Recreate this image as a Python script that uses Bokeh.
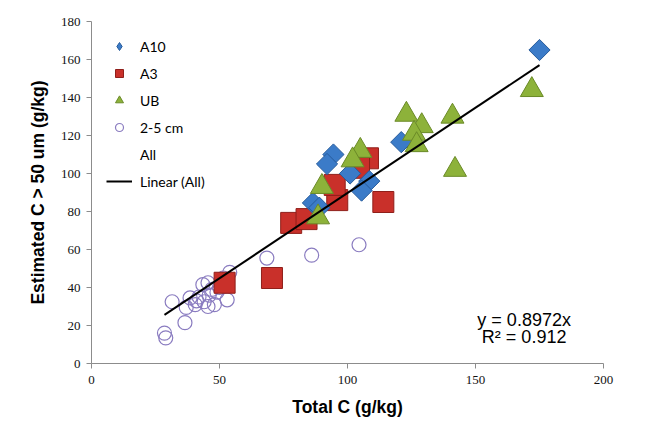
import math
from bokeh.plotting import figure
from bokeh.models import Legend, LegendItem, Label, FixedTicker
from bokeh.embed import file_html
from bokeh.resources import INLINE

# ---- data ----
a10_x = [175, 94.5, 92, 121, 101, 108.5, 105.5, 86.5, 89]
a10_y = [165, 110, 105, 116.5, 100, 96, 91, 84.5, 82]

a3_x = [52, 70.5, 78, 84, 96, 95, 108, 104.5, 114]
a3_y = [42.5, 45, 74, 76, 86, 94, 108, 103, 85]

ub_x = [172, 123, 141, 129, 126, 127, 142, 105, 102, 90, 88.5]
ub_y = [144, 131, 130, 125, 121, 115, 102, 112, 107, 93, 77]

c25_x = [28.5, 29, 36.5, 31.5, 37, 38.5, 42, 44, 45.5, 48, 43.5, 45.5,
         47, 49, 53, 54, 50, 41, 46, 68.5, 86, 104.5, 40.5, 51.5]
c25_y = [16, 13.5, 21.5, 32.5, 29.5, 34.5, 35, 32.5, 30, 31, 41.5, 42.5,
         39, 37.5, 33.5, 48, 40, 33, 36, 55.5, 57, 62.5, 31, 45]

slope = 0.8972
r2 = 0.912

x_ticks = [0, 50, 100, 150, 200]
y_ticks = [0, 20, 40, 60, 80, 100, 120, 140, 160, 180]

all_x = a10_x + a3_x + ub_x + c25_x
line_x = [min(all_x), max(all_x)]
line_y = [slope * v for v in line_x]

p = figure(width=636, height=430, output_backend="svg", toolbar_location=None,
           x_range=(0, 200), y_range=(0, 180),
           min_border_left=91, min_border_right=33, min_border_top=21, min_border_bottom=67,
           background_fill_color="white", border_fill_color="white")
p.outline_line_color = None
p.xgrid.visible = False
p.ygrid.visible = False

# points
r_c25 = p.scatter(c25_x, c25_y, marker="circle", size=14, fill_alpha=0,
                  line_color="#8a7cc0", line_width=1.2)
r_a3 = p.scatter(a3_x, a3_y, marker="square", size=21, fill_color="#c9302a",
                 line_color="#8f1f1a", line_width=1)
r_a10 = p.scatter(a10_x, a10_y, marker="square", angle=math.pi / 4, size=15,
                  fill_color="#3b7bc8", line_color="#275c9c", line_width=1)
r_ub = p.scatter(ub_x, ub_y, marker="triangle", size=23, fill_color="#8db23a",
                 line_color="#6a8a27", line_width=1)
# legend-only swatch (hidden in the plot) for the diamond marker
r_a10_key = p.scatter(a10_x, a10_y, marker="diamond", size=15, visible=False,
                      fill_color="#3b7bc8", line_color="#275c9c", line_width=1)
r_all = p.scatter([], [], marker="circle", size=1, fill_alpha=0, line_alpha=0)
r_line = p.line(line_x, line_y, line_color="black", line_width=2)

# axes
for ax in (p.xaxis[0], p.yaxis[0]):
    ax.axis_line_color = "#8c8c8c"
    ax.major_tick_line_color = "#8c8c8c"
    ax.minor_tick_line_color = None
    ax.major_tick_in = 0
    ax.major_tick_out = 5
    ax.major_label_text_font = "Liberation Serif"
    ax.major_label_text_font_size = "13px"
    ax.major_label_text_color = "#111111"
    ax.axis_label_text_font = "Liberation Sans"
    ax.axis_label_text_font_style = "bold"
    ax.axis_label_text_font_size = "17.5px"
    ax.axis_label_text_color = "black"

p.xaxis.ticker = FixedTicker(ticks=x_ticks)
p.yaxis.ticker = FixedTicker(ticks=y_ticks)
p.xaxis.axis_label = "Total C (g/kg)"
p.yaxis.axis_label = "Estimated C > 50 um (g/kg)"
p.xaxis.major_label_standoff = 7
p.yaxis.major_label_standoff = 6
p.xaxis.axis_label_standoff = 10
p.yaxis.axis_label_standoff = 10

legend = Legend(items=[
    LegendItem(label="A10", renderers=[r_a10_key]),
    LegendItem(label="A3", renderers=[r_a3]),
    LegendItem(label="UB", renderers=[r_ub]),
    LegendItem(label="2-5 cm", renderers=[r_c25]),
    LegendItem(label="All", renderers=[r_all]),
    LegendItem(label="Linear (All)", renderers=[r_line]),
], location="top_left")
legend.background_fill_alpha = 0
legend.border_line_color = None
legend.margin = 15
legend.padding = 10
legend.glyph_width = 26
legend.glyph_height = 20
legend.label_height = 20
legend.spacing = 7
legend.label_standoff = 8
legend.label_text_font = "Lato"
legend.label_text_font_size = "14px"
legend.label_text_color = "black"
p.add_layout(legend, "center")

p.add_layout(Label(x=169, y=23, text="y = 0.8972x", text_align="center",
                   text_baseline="middle", text_font="Liberation Sans",
                   text_font_size="18px", text_color="black"))
p.add_layout(Label(x=169, y=14, text="R² = " + str(r2), text_align="center",
                   text_baseline="middle", text_font="Liberation Sans",
                   text_font_size="18px", text_color="black"))

open("out.html", "w").write(file_html(p, INLINE))
